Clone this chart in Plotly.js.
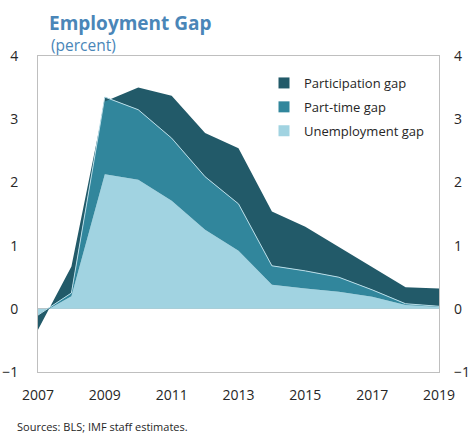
<!DOCTYPE html>
<html>
<head>
<meta charset="utf-8">
<script src="https://cdn.plot.ly/plotly-3.0.1.min.js"></script>
<style>
html,body{margin:0;padding:0;background:#fff;}
#chart{width:469px;height:434px;}
</style>
</head>
<body>
<div id="chart"></div>
<script>
// Data (percent)
var years = [2007, 2008, 2009, 2010, 2011, 2012, 2013, 2014, 2015, 2016, 2017, 2018, 2019];
var unemploymentGap = [-0.10, 0.20, 2.13, 2.04, 1.71, 1.25, 0.92, 0.38, 0.32, 0.27, 0.19, 0.06, 0.03];
var partTimeGap     = [0.00, 0.05, 1.22, 1.11, 0.99, 0.84, 0.74, 0.30, 0.28, 0.23, 0.11, 0.02, 0.01];
var participationGap= [-0.23, 0.42, -0.07, 0.35, 0.67, 0.69, 0.88, 0.86, 0.70, 0.48, 0.37, 0.26, 0.28];
var seriesNames = ["Unemployment gap", "Part-time gap", "Participation gap"];
var yTicks = [-1, 0, 1, 2, 3, 4];
var xTicks = [2007, 2009, 2011, 2013, 2015, 2017, 2019];

var colors = ["#A1D3E1", "#31869C", "#225A69"];
var FONT = "Open Sans, Noto Sans, sans-serif";

var series = [unemploymentGap, partTimeGap, participationGap];
var traces = [];
series.forEach(function (vals, i) {
  traces.push({
    x: years, y: vals, type: "scatter", mode: "lines",
    stackgroup: "gap", name: seriesNames[i],
    fillcolor: colors[i],
    line: {width: i === 1 ? 1 : 0, color: i === 1 ? "#B7DDE8" : colors[i]},
    showlegend: false, hoverinfo: "x+y+name"
  });
});
// legend entries (square swatches), top entry = last stacked series
[2, 1, 0].forEach(function (i) {
  traces.push({
    x: [null], y: [null], type: "scatter", mode: "markers",
    name: seriesNames[i], legendgroup: "g" + i,
    marker: {symbol: "square", size: 11, color: colors[i]},
    showlegend: true, hoverinfo: "skip"
  });
});

var axisCommon = {
  showgrid: false, showline: true, linecolor: "#BFBFBF", linewidth: 1,
  tickfont: {family: FONT, size: 14, color: "#262626"}, ticks: ""
};

var layout = {
  width: 469, height: 434,
  margin: {l: 38, r: 30, t: 56, b: 62},
  paper_bgcolor: "#fff", plot_bgcolor: "#fff",
  font: {family: FONT},
  title: {
    text: "<b>Employment Gap</b>",
    font: {family: FONT, size: 19, color: "#4A86B8"},
    x: 49 / 469, xref: "container", xanchor: "left",
    y: 1 - 23 / 434, yref: "container", yanchor: "middle"
  },
  xaxis: Object.assign({}, axisCommon, {
    range: [2007, 2019], tickvals: xTicks, ticktext: xTicks.map(String),
    mirror: true, zeroline: false, ticklabelstandoff: 10
  }),
  yaxis: Object.assign({}, axisCommon, {
    range: [-1, 4], tickvals: yTicks, mirror: true,
    zeroline: true, zerolinecolor: "#BFBFBF", zerolinewidth: 1,
    ticklabelstandoff: 16, layer: "above traces"
  }),
  yaxis2: Object.assign({}, axisCommon, {
    range: [-1, 4], tickvals: yTicks, overlaying: "y", side: "right",
    showline: false, zeroline: false, ticklabelstandoff: 14
  }),
  showlegend: true,
  legend: {
    x: (264 - 38) / 401, xanchor: "left",
    y: (372 - 68) / 316, yanchor: "top",
    bgcolor: "rgba(0,0,0,0)", traceorder: "grouped",
    tracegroupgap: 4, itemwidth: 30,
    font: {family: FONT, size: 13, color: "#262626"}
  },
  annotations: [
    {text: "(percent)", xref: "paper", yref: "paper",
     x: (49 - 38) / 401, y: (372 - 45) / 316, xanchor: "left", yanchor: "middle",
     showarrow: false, font: {family: FONT, size: 15.5, color: "#4A86B8"}},
    {text: "Sources: BLS; IMF staff estimates.", xref: "paper", yref: "paper",
     x: (15 - 38) / 401, y: (372 - 426) / 316, xanchor: "left", yanchor: "middle",
     showarrow: false, font: {family: FONT, size: 11, color: "#262626"}}
  ]
};

// right axis needs a (data-free) trace to be drawn
traces.push({x: [null], y: [null], yaxis: "y2", type: "scatter", mode: "markers",
  showlegend: false, hoverinfo: "skip"});

Plotly.newPlot("chart", traces, layout, {displayModeBar: false, staticPlot: true});
</script>
</body>
</html>
